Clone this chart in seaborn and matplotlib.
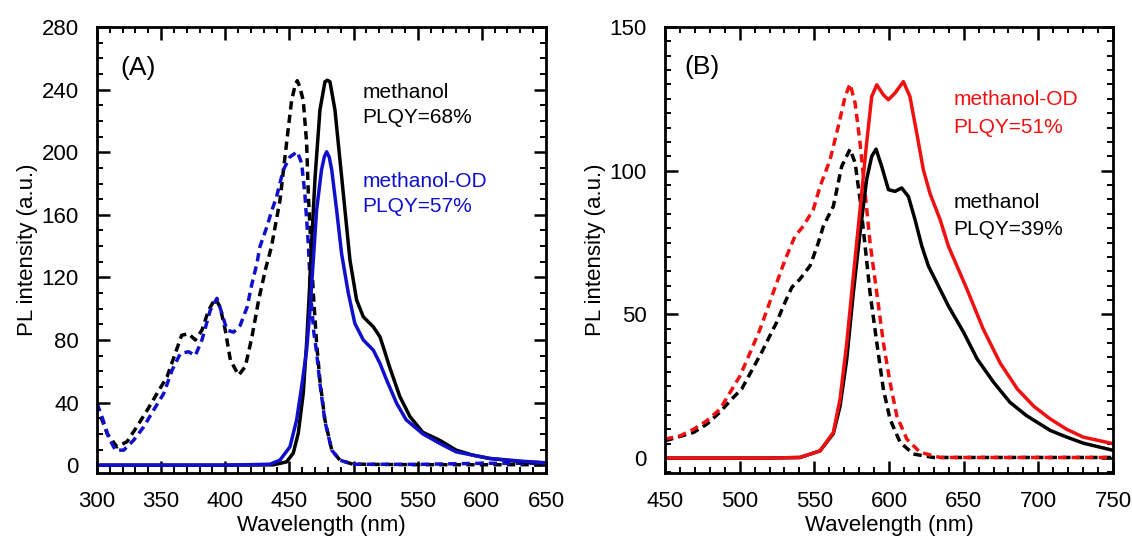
import numpy as np
import pandas as pd
import matplotlib
matplotlib.use("Agg")
import matplotlib.pyplot as plt
import seaborn as sns
from matplotlib.ticker import MultipleLocator

# ---------------- Panel A data (wavelength nm, PL intensity a.u.) ----------------
a_meoh_exc_x = [303, 308, 315.6, 323.4, 331, 339, 346.8, 354.6, 361, 366, 371.4, 376.6, 381.8, 387, 392.2, 396, 400, 404, 410.4, 415.6, 420.8, 426, 431.2, 436, 442.6, 447.8, 451.7, 454.5, 456.1, 458, 460.8, 463.4, 464.7, 466, 468.6, 471.2, 473.8, 477.7, 483, 489.4, 499.5, 550, 600, 650]
a_meoh_exc_y = [31, 20, 11.7, 15, 24.5, 35, 45.8, 56.5, 71.4, 83, 84, 80, 86.3, 99, 106.6, 101, 86.3, 67, 57.5, 63, 82, 105.5, 124.7, 139.6, 169, 206, 233, 243, 245.7, 242, 233, 206, 174, 152, 110, 78, 54, 28.8, 9.6, 3.2, 0.6, 0.3, 0.3, 0.3]

a_od_exc_x = [300, 303.9, 309, 314.3, 320.8, 328.6, 336.4, 344, 352, 358.5, 365, 371.4, 376.6, 381.8, 388.3, 393.5, 397.4, 401.3, 406.5, 411.7, 417, 420.8, 424.7, 427, 432.3, 436, 440, 445.2, 450.4, 456.1, 459.5, 462, 464.7, 466.5, 469, 471.2, 473.8, 477.7, 483, 489.4, 499.5, 550, 600, 650]
a_od_exc_y = [39.5, 30.9, 18, 9.6, 9.6, 16, 24.5, 35, 45.8, 60.7, 71.4, 72.5, 70, 80, 99, 106.6, 97, 86.3, 85, 89.5, 101, 116, 129, 139.6, 152, 162, 171.6, 188.6, 197, 200.3, 193, 173.7, 141.7, 110, 85, 72, 52, 28, 9.6, 3.2, 0.6, 0.5, 1.2, 1.2]

a_meoh_em_x = [300, 400, 437.4, 447.8, 453, 456.9, 460.8, 463.4, 465.5, 467.3, 470, 473.8, 477.7, 479.6, 481.6, 485.5, 489.4, 493.3, 497.2, 502.4, 507.6, 515.4, 520.6, 523, 528, 536, 544, 554, 567, 580, 593, 606, 619, 632, 650]
a_meoh_em_y = [0, 0, 0.2, 2.1, 7.7, 20.4, 46, 78, 110, 142, 184, 227, 245, 246, 245, 227, 195, 163, 131, 105.5, 94.8, 88.4, 82, 76, 63, 44, 31, 21, 16, 9.6, 6.4, 4.3, 3.2, 2, 1.5]

a_od_em_x = [300, 400, 434.8, 442.6, 450.4, 455.6, 459.5, 463.4, 466, 468.6, 471.2, 475, 477.2, 479, 481, 483, 486.8, 490.7, 495.9, 501, 507.6, 515.4, 520.6, 526, 533.6, 541, 554, 567, 580, 606, 632, 650]
a_od_em_y = [0, 0, 0.6, 3.2, 11.7, 28.8, 50, 73.5, 99, 131, 163, 188.6, 197, 200.3, 197, 188.6, 163, 135, 110, 90.6, 80, 73.5, 65, 54, 39.5, 29, 20, 14, 8.5, 4.3, 2.5, 1.5]

# ---------------- Panel B data ----------------
b_od_exc_x = [450, 460, 469, 478, 486.8, 493.5, 500.2, 507, 513.6, 519.2, 524.8, 530.4, 537, 542.6, 549.3, 553.8, 560.5, 566, 570.6, 573.9, 577.3, 580.6, 584, 587.3, 591.8, 596.2, 600.7, 605.2, 611.9, 620.8, 634.2, 680, 750]
b_od_exc_y = [6.6, 7.7, 10, 13, 17, 22.8, 28.6, 36.7, 44.8, 52.9, 61, 69, 77.2, 80.7, 86.5, 94.5, 103.8, 115.4, 125.8, 130.2, 123.5, 109.6, 92.3, 74.9, 57.5, 40.2, 26.3, 14.7, 6.6, 2, 0.2, 0.2, 0.2]

b_meoh_exc_x = [450, 469, 478, 486.8, 494.6, 501.3, 508, 514.7, 521.4, 524.8, 529.3, 534.9, 540.4, 547.2, 552.7, 556, 562.7, 568.3, 573.9, 577.3, 580.6, 584, 587.3, 591.8, 596.2, 600.7, 607.4, 616.3, 629.7, 680, 750]
b_meoh_exc_y = [6, 8.9, 11.8, 16, 20.5, 24, 30.4, 36.8, 43.8, 47.3, 53, 59.4, 62.3, 67, 75, 80.7, 87.6, 101.5, 107.5, 102.7, 90, 73.7, 57.5, 40.2, 24, 13.5, 5.5, 1.4, 0.2, 0.2, 0.2]

b_od_em_x = [450, 520, 540.4, 553.8, 562.7, 567.2, 571.7, 576.1, 580.6, 585, 588.4, 591.8, 596.2, 599.6, 604, 609.6, 614, 618.6, 623, 627.5, 634.2, 639.8, 652, 663, 674.5, 686, 697, 708, 719, 730, 750]
b_od_em_y = [0, 0, 0.2, 2.5, 8.9, 20.5, 40, 63.3, 86.5, 109.6, 125.8, 129.9, 126.4, 124.7, 127, 131, 125.8, 113, 100.3, 92, 83, 73.7, 59, 45, 33, 24, 18, 13.6, 10, 7.3, 5]

b_meoh_em_x = [450, 520, 540.4, 553.8, 562.7, 567.2, 571.7, 576.1, 580.6, 585, 588.4, 591.3, 595.1, 599.6, 604, 608.5, 613, 617.4, 622, 626.4, 632, 639.8, 650, 659, 670, 681, 692, 708, 719, 730, 750]
b_meoh_em_y = [0, 0, 0.2, 2.5, 8.5, 18, 34.4, 57.5, 78.4, 96.9, 105, 107.5, 101.5, 93.4, 92.8, 94, 91, 83, 73.7, 66.8, 61, 52.9, 43.7, 34.5, 26.4, 19.4, 14.8, 9.6, 7.3, 5.2, 2.7]

BLUE = "#1010cc"
RED = "#f01010"

sns.set_theme(style="white")
plt.rcParams['font.family'] = ['Liberation Sans', 'DejaVu Sans']
plt.rcParams['text.color'] = 'black'
plt.rcParams['axes.labelcolor'] = 'black'

fig = plt.figure(figsize=(11.32, 5.47), dpi=100)
axA = fig.add_axes([0.0857, 0.1353, 0.4823 - 0.0857, 0.9506 - 0.1353])
axB = fig.add_axes([0.5875, 0.1353, 0.9832 - 0.5875, 0.9506 - 0.1353])

LW = 2.5
DASH = (2.4, 1.5)

def draw(ax, x, y, color, dashed):
    sns.lineplot(x=x, y=y, ax=ax, color=color, linewidth=LW, sort=False, estimator=None)
    line = ax.lines[-1]
    line.set_solid_joinstyle('round')
    line.set_dash_joinstyle('round')
    if dashed:
        line.set_dashes(DASH)

draw(axA, a_meoh_exc_x, a_meoh_exc_y, "black", True)
draw(axA, a_od_exc_x, a_od_exc_y, BLUE, True)
draw(axA, a_meoh_em_x, a_meoh_em_y, "black", False)
draw(axA, a_od_em_x, a_od_em_y, BLUE, False)

draw(axB, b_meoh_exc_x, b_meoh_exc_y, "black", True)
draw(axB, b_od_exc_x, b_od_exc_y, RED, True)
draw(axB, b_meoh_em_x, b_meoh_em_y, "black", False)
draw(axB, b_od_em_x, b_od_em_y, RED, False)

FS_TICK = 16
FS_LAB = 16
FS_ANN = 15
for ax, xl, yl, xmaj, ymaj, ymin in [
    (axA, (300, 650), (-5, 280), 50, 40, 10),
    (axB, (450, 750), (-5.2, 150), 50, 50, 5),
]:
    ax.set_xlim(*xl)
    ax.set_ylim(*yl)
    ax.xaxis.set_major_locator(MultipleLocator(xmaj))
    ax.xaxis.set_minor_locator(MultipleLocator(10))
    ax.yaxis.set_major_locator(MultipleLocator(ymaj))
    ax.yaxis.set_minor_locator(MultipleLocator(ymin))
    ax.tick_params(which='both', direction='in', top=True, right=True, bottom=True, left=True,
                   labelsize=FS_TICK, color='black', labelcolor='black')
    ax.tick_params(which='major', length=9, width=1.8, pad=13)
    ax.tick_params(which='minor', length=4.5, width=1.4)
    for s in ax.spines.values():
        s.set_color('black')
        s.set_linewidth(2.0)
    ax.set_xlabel("Wavelength (nm)", fontsize=FS_LAB, labelpad=2, color='black')
    ax.set_ylabel("PL intensity (a.u.)", fontsize=FS_LAB, labelpad=3, color='black')
    ax.grid(False)

axA.text(318, 254, "(A)", fontsize=19, va='center', ha='left', color='black')
axA.text(507, 238, "methanol", fontsize=FS_ANN, va='center', ha='left', color='black')
axA.text(507, 222, "PLQY=68%", fontsize=FS_ANN, va='center', ha='left', color='black')
axA.text(507, 181, "methanol-OD", fontsize=FS_ANN, va='center', ha='left', color=BLUE)
axA.text(507, 165, "PLQY=57%", fontsize=FS_ANN, va='center', ha='left', color=BLUE)

axB.text(463, 136, "(B)", fontsize=19, va='center', ha='left', color='black')
axB.text(643, 124.7, "methanol-OD", fontsize=FS_ANN, va='center', ha='left', color=RED)
axB.text(643, 115, "PLQY=51%", fontsize=FS_ANN, va='center', ha='left', color=RED)
axB.text(643, 89, "methanol", fontsize=FS_ANN, va='center', ha='left', color='black')
axB.text(643, 79.5, "PLQY=39%", fontsize=FS_ANN, va='center', ha='left', color='black')

fig.savefig("out.png", dpi=100)
